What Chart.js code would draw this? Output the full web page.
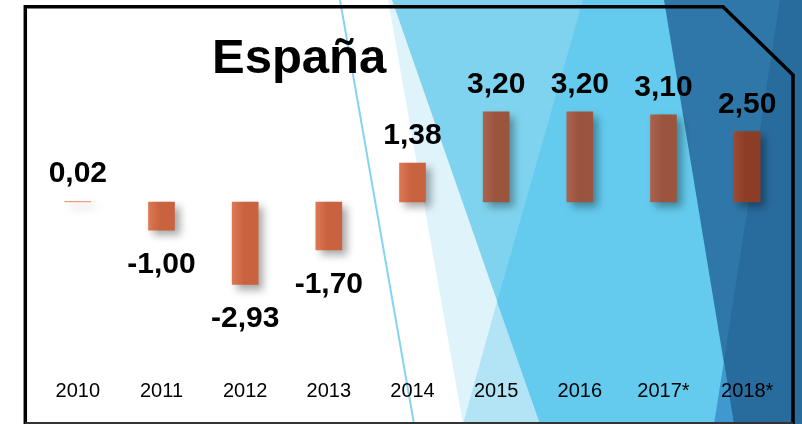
<!DOCTYPE html>
<html>
<head>
<meta charset="utf-8">
<script src="https://cdn.jsdelivr.net/npm/chart.js@4.4.1/dist/chart.umd.min.js"></script>
<style>
  html, body { margin: 0; padding: 0; background: #fff; }
  #wrap { position: relative; width: 802px; height: 424px; }
</style>
</head>
<body>
<div id="wrap"><canvas id="barChart" width="802" height="424"></canvas></div>
<script>
// ---------------- Data ----------------
const years = ["2010", "2011", "2012", "2013", "2014", "2015", "2016", "2017*", "2018*"];
const growth = [0.02, -1.00, -2.93, -1.70, 1.38, 3.20, 3.20, 3.10, 2.50];
const chartTitle = "España";

// bar colours (left edge, right edge) per bar
const barLeft  = ["#f0a080", "#de7754", "#de7754", "#de7754", "#de7754", "#aa624b", "#aa624b", "#aa624b", "#9b4a33"];
const barRight = ["#f0a080", "#c8623f", "#c8623f", "#c8623f", "#c8623f", "#9b553f", "#9b553f", "#9b553f", "#8b3d26"];

const FONT = "'Liberation Sans', Arial, sans-serif";

function fmt(v) {
  return v.toFixed(2).replace(".", ",");
}

function poly(ctx, pts, color) {
  ctx.beginPath();
  ctx.moveTo(pts[0][0], pts[0][1]);
  for (let i = 1; i < pts.length; i++) ctx.lineTo(pts[i][0], pts[i][1]);
  ctx.closePath();
  ctx.fillStyle = color;
  ctx.fill();
}

// ---------------- Background shapes + frame ----------------
const backdrop = {
  id: "backdrop",
  beforeDraw(chart) {
    const ctx = chart.ctx;
    ctx.save();
    ctx.fillStyle = "#fff";
    ctx.fillRect(0, 0, 802, 424);

    poly(ctx, [[388, 0], [802, 0], [802, 424], [463, 424]], "#dff3fa");
    poly(ctx, [[392, 0], [802, 0], [802, 424], [540, 424]], "#7fd3ef");
    poly(ctx, [[463, 424], [540, 424], [497, 302]], "#b2e4f6");
    poly(ctx, [[583, 0], [802, 0], [802, 424], [540, 424], [497, 302]], "#64cbee");
    poly(ctx, [[664, 0], [802, 0], [802, 424], [734, 424]], "#2f77a8");
    poly(ctx, [[714, 424], [734, 424], [724, 361]], "#3f98d0");
    poly(ctx, [[780, 0], [802, 0], [802, 424], [734, 424], [724, 361]], "#286b9d");

    // thin line
    ctx.strokeStyle = "#86d4f0";
    ctx.lineWidth = 2;
    ctx.beginPath();
    ctx.moveTo(340, 0);
    ctx.lineTo(414, 424);
    ctx.stroke();

    // frame
    ctx.strokeStyle = "#000";
    ctx.lineWidth = 3.5;
    ctx.lineJoin = "miter";
    ctx.beginPath();
    ctx.moveTo(25.3, 424);
    ctx.lineTo(25.3, 6.7);
    ctx.lineTo(723, 6.7);
    ctx.lineTo(793, 75);
    ctx.lineTo(793, 424);
    ctx.stroke();
    ctx.strokeStyle = "#333";
    ctx.lineWidth = 2;
    ctx.beginPath();
    ctx.moveTo(25, 423);
    ctx.lineTo(793, 423);
    ctx.stroke();

    // title
    ctx.fillStyle = "#000";
    ctx.font = "bold 49px " + FONT;
    ctx.textAlign = "left";
    ctx.textBaseline = "alphabetic";
    ctx.fillText(chartTitle, 212, 73);
    ctx.restore();
  }
};

// ---------------- Bar shadow ----------------
const barShadow = {
  id: "barShadow",
  beforeDatasetsDraw(chart) {
    const ctx = chart.ctx;
    ctx.save();
    ctx.shadowColor = "rgba(0,0,0,0.35)";
    ctx.shadowBlur = 8;
    ctx.shadowOffsetX = 5;
    ctx.shadowOffsetY = 5;
  },
  afterDatasetsDraw(chart) {
    chart.ctx.restore();
  }
};

// ---------------- Value labels ----------------
const valueLabels = {
  id: "valueLabels",
  afterDatasetsDraw(chart) {
    const ctx = chart.ctx;
    const meta = chart.getDatasetMeta(0);
    ctx.save();
    ctx.fillStyle = "#000";
    ctx.font = "bold 30px " + FONT;
    ctx.textAlign = "center";
    ctx.textBaseline = "alphabetic";
    meta.data.forEach((bar, i) => {
      const v = growth[i];
      const y = v >= 0 ? bar.y - 19 : bar.y + 43;
      ctx.fillText(fmt(v), bar.x, y);
    });
    ctx.restore();
  }
};

document.addEventListener("DOMContentLoaded", () => {
  const ctxBar = document.getElementById("barChart").getContext("2d");
  new Chart(ctxBar, {
    type: "bar",
    data: {
      labels: years,
      datasets: [{
        label: chartTitle,
        data: growth,
        barThickness: 26,
        borderWidth: 0,
        backgroundColor(c) {
          const chart = c.chart;
          const x = chart.scales.x;
          if (!x || !chart.chartArea) return barRight[c.dataIndex];
          const cx = x.getPixelForValue(c.dataIndex);
          const g = chart.ctx.createLinearGradient(cx - 13, 0, cx + 13, 0);
          g.addColorStop(0, barLeft[c.dataIndex]);
          g.addColorStop(0.45, barRight[c.dataIndex]);
          g.addColorStop(1, barRight[c.dataIndex]);
          return g;
        }
      }]
    },
    options: {
      responsive: false,
      animation: false,
      layout: { padding: { left: 36, right: 13, top: 75.3, bottom: 12.3 } },
      plugins: {
        legend: { display: false },
        title: { display: false },
        tooltip: { enabled: false }
      },
      scales: {
        x: {
          grid: { display: false, drawTicks: false },
          border: { display: false },
          ticks: {
            color: "#000",
            padding: 8.4,
            autoSkip: false,
            maxRotation: 0,
            font: { family: FONT, size: 20 }
          }
        },
        y: {
          display: false,
          min: -6,
          max: 4.5
        }
      }
    },
    plugins: [backdrop, barShadow, valueLabels]
  });
});
</script>
</body>
</html>
